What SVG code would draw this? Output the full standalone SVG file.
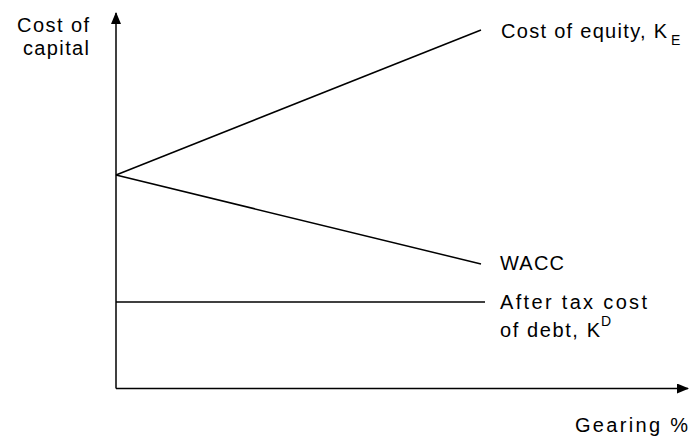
<svg xmlns="http://www.w3.org/2000/svg" width="689" height="439" viewBox="0 0 689 439">
<style>
text{font-family:"Liberation Sans",Arial,sans-serif;font-size:20px;fill:#000}
.s{font-size:14px}
.ln{stroke:#000;stroke-width:1.5;fill:none}
</style>
<defs>
<marker id="ah" markerWidth="12" markerHeight="10" refX="11" refY="5" orient="auto" markerUnits="userSpaceOnUse">
<path d="M0,0 L12,5 L0,10 Z" fill="#000"/>
</marker>
</defs>
<g id="connectors">
<path class="ln" d="M116,388.5 L116,13" marker-end="url(#ah)"/>
<path class="ln" d="M116,388.5 L688,388.5" marker-end="url(#ah)"/>
<path class="ln" d="M116,175 L481,30"/>
<path class="ln" d="M116,175 L481,264"/>
<path class="ln" d="M116,302 L485,302"/>
</g>
<g id="y-label"><text x="17" y="32" textLength="72">Cost of</text><text x="23" y="55" textLength="66">capital</text></g>
<g id="equity"><text x="501" y="37.5" textLength="166">Cost of equity, K</text><text class="s" x="671" y="45">E</text></g>
<g id="wacc"><text x="500" y="270" textLength="64">WACC</text></g>
<g id="debt"><text x="500" y="309" textLength="147">After tax cost</text><text x="500" y="336.5" textLength="100">of debt, K</text><text class="s" x="601" y="326">D</text></g>
<g id="x-label"><text x="575" y="432" textLength="113">Gearing %</text></g>
</svg>
